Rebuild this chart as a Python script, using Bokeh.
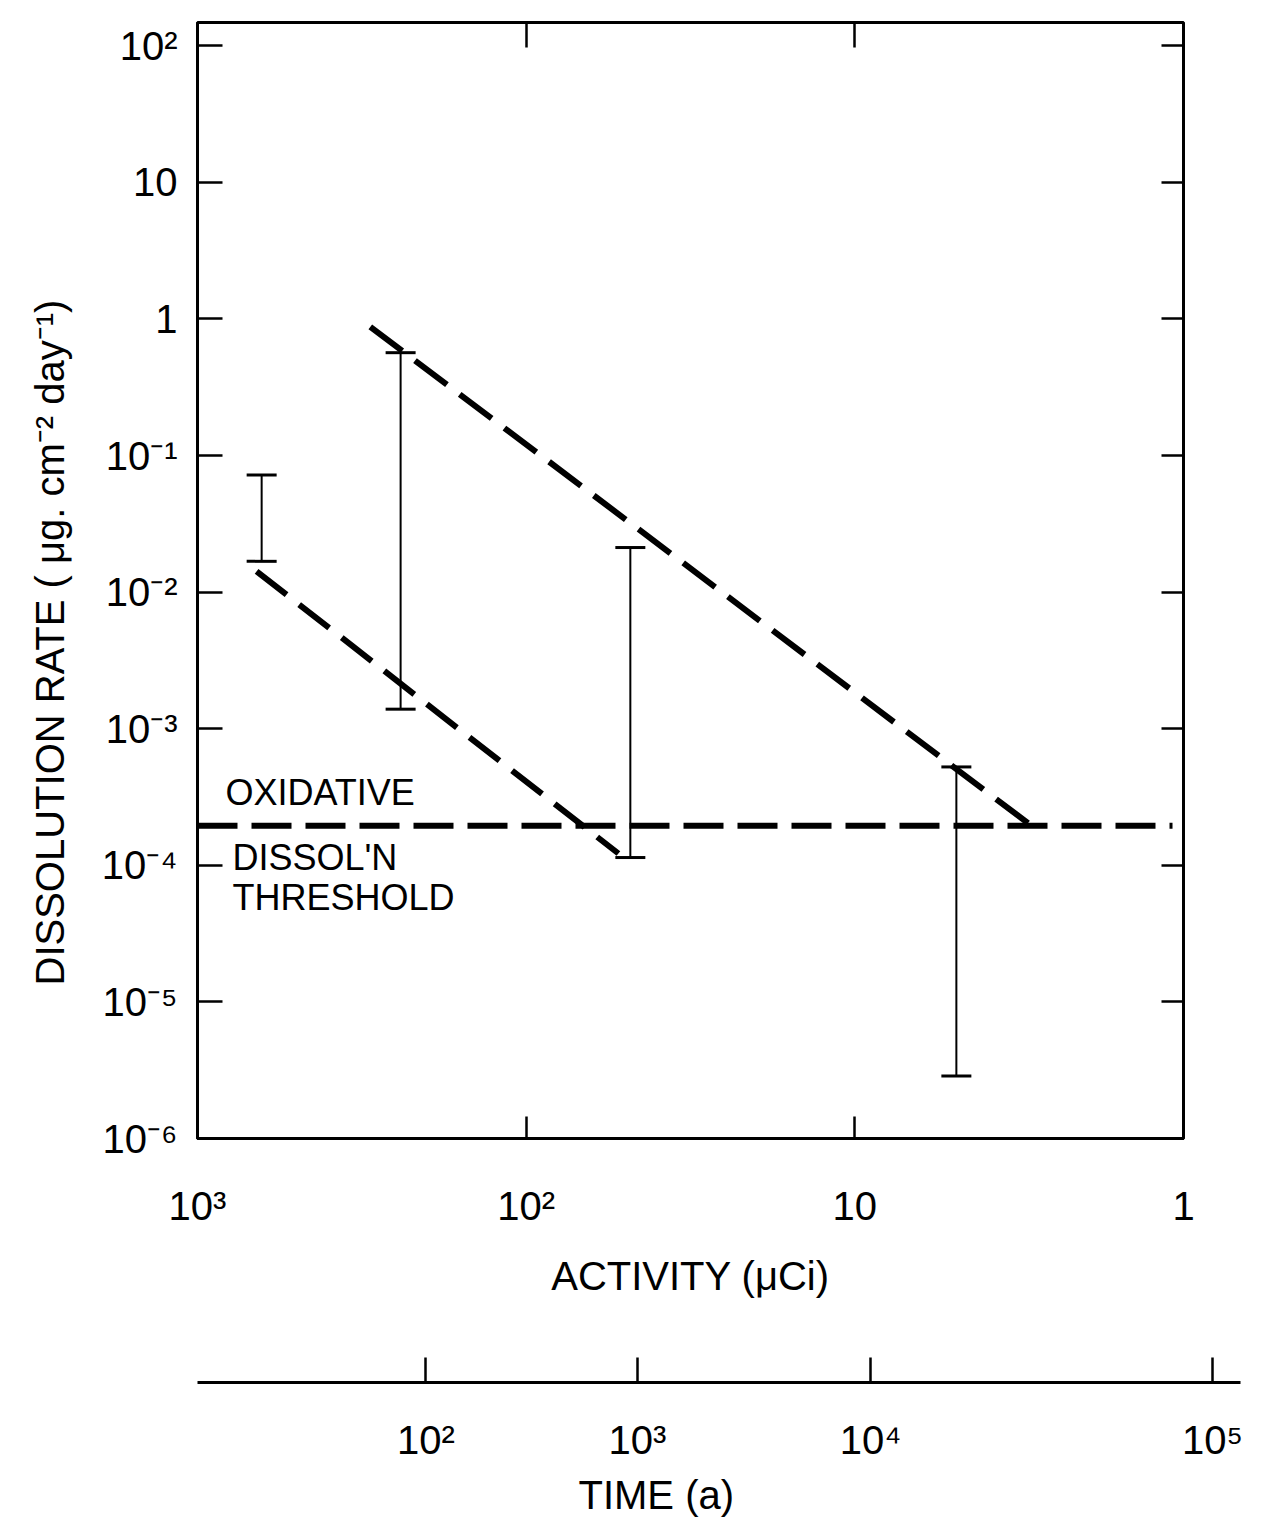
from bokeh.plotting import figure
from bokeh.models import (Range1d, FixedTicker, CustomJSTickFormatter, LogAxis,
                          Whisker, TeeHead, ColumnDataSource, Title)
from bokeh.layouts import column
from bokeh.core.properties import value
from bokeh.embed import file_html
from bokeh.resources import INLINE

FONT = "Liberation Sans"

# ---- data ----
activity_ticks = [1000, 100, 10, 1]
activity_tick_labels = ["10³", "10²", "10", "1"]
rate_ticks = [1e-6, 1e-5, 1e-4, 1e-3, 1e-2, 1e-1, 1, 10, 100]
rate_tick_labels = ["10⁻⁶", "10⁻⁵", "10⁻⁴", "10⁻³", "10⁻²", "10⁻¹", "1", "10", "10²"]
time_tick_labels = ["10²", "10³", "10⁴", "10⁵"]
time_tick_activity = [202, 45.9, 8.96, 0.816]   # activity (uCi) reached at each time tick

bar_activity = [638, 241, 48.2, 4.91]
bar_upper = [0.072, 0.566, 0.0212, 5.25e-4]
bar_lower = [0.0168, 1.39e-3, 1.14e-4, 2.87e-6]

low_line_activity = [661, 52.4]
low_line_rate = [0.0142, 1.22e-4]
high_line_activity = [298, 2.96]
high_line_rate = [0.875, 2.02e-4]
threshold_activity = [1000, 1.08]
threshold_rate = [1.95e-4, 1.95e-4]

note_text = ["OXIDATIVE", "DISSOL'N", "THRESHOLD"]
note_activity = [822, 783, 783]
note_rate = [3.4e-4, 1.14e-4, 5.85e-5]

y_title = "DISSOLUTION RATE ( μg. cm⁻² day⁻¹)"
x_title = "ACTIVITY (μCi)"
time_title = "TIME (a)"

LABEL_CODE = """
const lt = Math.log10(tick);
let best = 0;
for (let i = 0; i < vals.length; i++) {
  if (Math.abs(Math.log10(vals[i]) - lt) < Math.abs(Math.log10(vals[best]) - lt)) best = i;
}
return labs[best];
"""

def fmt(vals, labs):
    return CustomJSTickFormatter(args=dict(vals=vals, labs=labs), code=LABEL_CODE)

def style_axis(ax, tick_in):
    ax.axis_line_color = "black"
    ax.axis_line_width = 3
    ax.major_tick_line_color = "black"
    ax.major_tick_line_width = 2.5
    ax.major_tick_in = tick_in
    ax.major_tick_out = 0
    ax.minor_tick_line_color = None
    ax.major_label_text_font = FONT
    ax.major_label_text_font_size = "40px"
    ax.major_label_text_color = "black"
    ax.axis_label_text_font = FONT
    ax.axis_label_text_font_size = "40px"
    ax.axis_label_text_font_style = "normal"
    ax.axis_label_text_color = "black"

def side_title(text, offset, standoff, valign, size="40px"):
    return Title(text=text, align="left", offset=offset, standoff=standoff,
                 vertical_align=valign,
                 text_font=FONT, text_font_size=size, text_font_style="normal",
                 text_color="black")

p = figure(x_axis_type="log", y_axis_type="log",
           x_range=Range1d(1000, 1), y_range=Range1d(1e-6, 10 ** 2.17),
           frame_width=986, frame_height=1116,
           min_border_left=197, min_border_top=22, min_border_right=62, min_border_bottom=160,
           output_backend="svg", toolbar_location=None,
           background_fill_color="white", border_fill_color="white")
p.grid.visible = False
p.outline_line_color = "black"
p.outline_line_width = 3

xa = p.xaxis[0]
xa.ticker = FixedTicker(ticks=activity_ticks)
xa.formatter = fmt(activity_ticks, activity_tick_labels)
xa.axis_label = x_title
style_axis(xa, 22)
xa.major_label_standoff = 45
xa.axis_label_standoff = 23

ya = p.yaxis[0]
ya.ticker = FixedTicker(ticks=rate_ticks)
ya.formatter = fmt(rate_ticks, rate_tick_labels)
style_axis(ya, 25)
ya.major_label_standoff = 20

# vertical axis title, placed like the original (starts lower than the frame centre)
p.add_layout(side_title(y_title, 153, 50, "top", "40px"), "left")

top_ax = LogAxis(ticker=FixedTicker(ticks=[100, 10]), formatter=CustomJSTickFormatter(code="return ''"))
style_axis(top_ax, 25)
top_ax.axis_line_color = None
top_ax.major_label_standoff = 0
p.add_layout(top_ax, "above")

right_ax = LogAxis(ticker=FixedTicker(ticks=rate_ticks), formatter=CustomJSTickFormatter(code="return ''"))
style_axis(right_ax, 22)
right_ax.axis_line_color = None
right_ax.major_label_standoff = 0
p.add_layout(right_ax, "right")

# error bars
bars = ColumnDataSource(dict(x=bar_activity, upper=bar_upper, lower=bar_lower))
p.add_layout(Whisker(source=bars, base="x", upper="upper", lower="lower", dimension="height",
                     line_color="black", line_width=2,
                     upper_head=TeeHead(size=30, line_width=3, line_color="black"),
                     lower_head=TeeHead(size=30, line_width=3, line_color="black")))

# dashed trend lines
p.line(low_line_activity, low_line_rate, line_color="black", line_width=6, line_dash="38 16")
p.line(high_line_activity, high_line_rate, line_color="black", line_width=6, line_dash="40 16")
p.line(threshold_activity, threshold_rate, line_color="black", line_width=6, line_dash="40 14")

p.text(x=note_activity, y=note_rate, text=note_text, text_font=value(FONT),
       text_font_size="36px", text_align="left", text_baseline="middle", text_color="black")

# secondary time axis (frames of a column are aligned, so it starts at the same left edge)
p2 = figure(x_axis_type="log", x_range=Range1d(1000, 0.671), y_range=Range1d(0, 1),
            frame_width=1043, frame_height=30,
            min_border_left=197, min_border_top=52, min_border_right=5, min_border_bottom=60,
            output_backend="svg", toolbar_location=None, y_axis_location=None,
            background_fill_color="white", border_fill_color="white")
p2.grid.visible = False
p2.outline_line_color = None
ta = p2.xaxis[0]
ta.ticker = FixedTicker(ticks=time_tick_activity)
ta.formatter = fmt(time_tick_activity, time_tick_labels)
style_axis(ta, 25)
ta.major_label_standoff = 35
p2.add_layout(side_title(time_title, 381, 12, "bottom"), "below")

layout = column(p, p2, spacing=0)
open("out.html", "w").write(file_html(layout, INLINE))
